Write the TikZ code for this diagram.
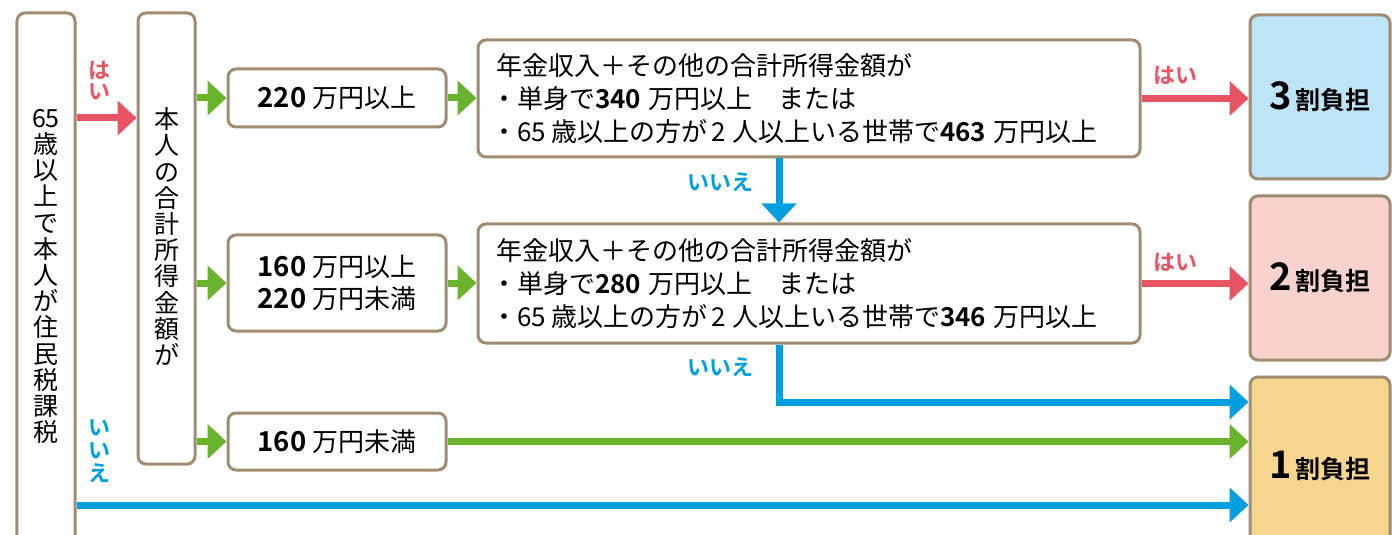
\documentclass[tikz,border=0pt]{standalone}
\usepackage{fontspec}
\setmainfont{Noto Sans CJK JP}[BoldFont={Noto Sans CJK JP Bold}]
\usetikzlibrary{arrows.meta,calc}
\definecolor{brn}{RGB}{160,140,112}
\definecolor{cred}{RGB}{233,84,100}
\definecolor{cgreen}{RGB}{106,180,45}
\definecolor{cblue}{RGB}{0,160,224}
\definecolor{fblue}{RGB}{190,228,248}
\definecolor{fpink}{RGB}{248,211,205}
\definecolor{fyel}{RGB}{246,213,143}
\tikzset{
  box/.style={draw=brn, line width=3bp, rounded corners=8bp, fill=white, inner sep=0pt, align=center},
  arr/.style={line width=7bp, -{Triangle[width=34bp,length=19bp]}},
  redarr/.style={arr, draw=cred},
  grnarr/.style={arr, draw=cgreen},
  bluarr/.style={arr, draw=cblue},
  vtext/.style={align=center, inner sep=0pt, font=\fontsize{25bp}{26.2bp}\selectfont},
  rowtext/.style={font=\fontsize{26bp}{32bp}\selectfont},
  ctext/.style={font=\fontsize{26bp}{33bp}\selectfont},
  redlab/.style={text=cred, inner sep=0pt, align=center, font=\bfseries\fontsize{22bp}{21bp}\selectfont},
  blulab/.style={text=cblue, inner sep=0pt, align=center, font=\bfseries\fontsize{22bp}{23bp}\selectfont},
  res/.style={box, minimum width=140bp, minimum height=164bp},
}
\newcommand{\bn}[1]{{\bfseries #1}\hspace{7bp}}
\newcommand{\wn}[1]{{\bfseries\fontsize{27.5bp}{32bp}\selectfont #1}\hspace{6bp}}
\newcommand{\bul}{\hspace*{-5bp}・}
\newcommand{\resl}[1]{{\bfseries\fontsize{38bp}{38bp}\selectfont #1}\hspace{3bp}{\bfseries\fontsize{25bp}{25bp}\selectfont 割負担}}
\begin{document}
\begin{tikzpicture}[x=1bp,y=-1bp]
\useasboundingbox (0,0) rectangle (1392,535);
\clip (0,0) rectangle (1392,535);
% left boxes
\node[box, minimum width=58bp, minimum height=542bp] (A) at (46,284) {};
\node[vtext] (At) at (46,276.5) {6\kern-0.5bp5\\歳\\以\\上\\で\\本\\人\\が\\住\\民\\税\\課\\税};
\node[box, minimum width=57bp, minimum height=451bp] (B) at (166.5,238.5) {};
\node[vtext] (Bt) at (166.5,236.5) {本\\人\\の\\合\\計\\所\\得\\金\\額\\が};
% row boxes
\node[box, rowtext, minimum width=218bp, minimum height=58bp] (R1) at (337,98) {\wn{220}万円以上};
\node[box, rowtext, minimum width=218bp, minimum height=96bp] (R2) at (337,283) {\wn{160}万円以上\\\wn{220}万円未満};
\node[box, rowtext, minimum width=218bp, minimum height=57bp] (R3) at (337,441.5) {\wn{160}万円未満};
% condition boxes
\node[box, ctext, align=left, minimum width=662bp, minimum height=117bp, text width=626bp, inner xsep=18bp] (C1) at (809,98.5) {年金収入＋その他の合計所得金額が\\\bul 単身で\bn{340}万円以上　または\\\bul 65\hspace{6bp}歳以上の方が\hspace{4bp}2\hspace{6bp}人以上いる世帯で\bn{463}万円以上};
\node[box, ctext, align=left, minimum width=662bp, minimum height=119bp, text width=626bp, inner xsep=18bp] (C2) at (809,283.5) {年金収入＋その他の合計所得金額が\\\bul 単身で\bn{280}万円以上　または\\\bul 65\hspace{6bp}歳以上の方が\hspace{4bp}2\hspace{6bp}人以上いる世帯で\bn{346}万円以上};
% result boxes
\node[res, fill=fblue] (D1) at (1320,97) {\resl{3}};
\node[res, fill=fpink] (D2) at (1320,278) {\resl{2}};
\node[res, fill=fyel, minimum height=178bp] (D3) at (1320,466) {\resl{1}};
% helper coordinates
\coordinate (yA) at (0,118);
\coordinate (yAn) at (0,505);
\coordinate (xV) at (779,0);
\coordinate (yV) at (0,402);
% labels
\node[redlab] (hai1) at (99,81) {は\\い};
\node[blulab] (iie1) at (99,451) {い\\い\\え};
\node[blulab] (iie2) at (720,182) {いいえ};
\node[blulab] (iie3) at (720,367) {いいえ};
\node[redlab] (hai2) at (1175,75) {はい};
\node[redlab] (hai3) at (1175,262) {はい};
% connectors
\draw[redarr] (A.east |- yA) -- (B.west |- yA);
\draw[grnarr] (B.east |- R1.west) -- (R1.west);
\draw[grnarr] (B.east |- R2.west) -- (R2.west);
\draw[grnarr] (B.east |- R3.west) -- (R3.west);
\draw[grnarr] (R1.east) -- (C1.west |- R1.east);
\draw[grnarr] (R2.east) -- (C2.west |- R2.east);
\draw[redarr] (C1.east) -- (D1.west |- C1.east);
\draw[redarr] (C2.east) -- (D2.west |- C2.east);
\draw[bluarr] (C1.south -| xV) -- (C2.north -| xV);
\draw[bluarr] (C2.south -| xV) |- (D3.west |- yV);
\draw[grnarr] (R3.east) -- (D3.west |- R3.east);
\draw[bluarr] (A.east |- yAn) -- (D3.west |- yAn);
\end{tikzpicture}
\end{document}
